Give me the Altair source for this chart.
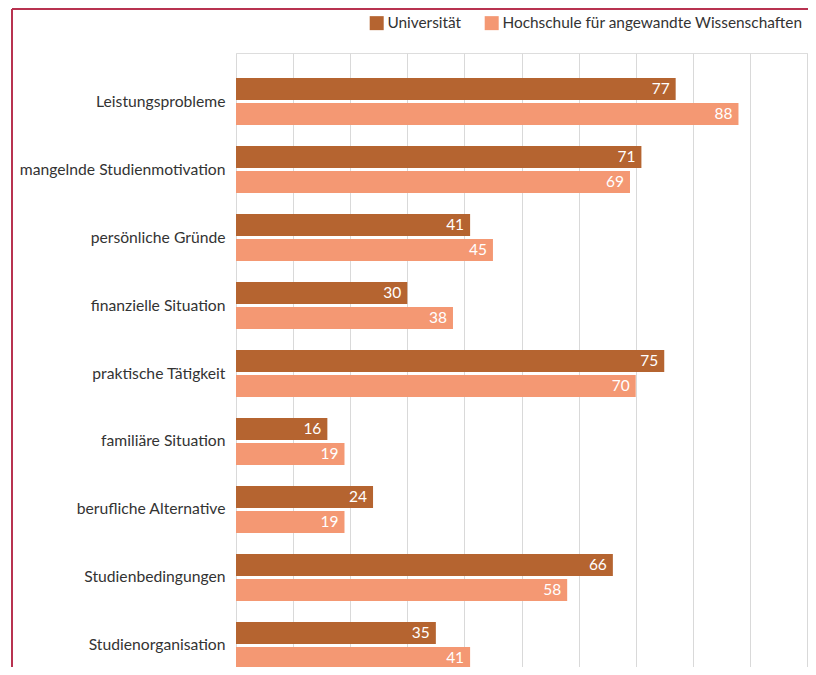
import altair as alt
import pandas as pd

categories = ["Leistungsprobleme", "mangelnde Studienmotivation", "persönliche Gründe",
              "finanzielle Situation", "praktische Tätigkeit", "familiäre Situation",
              "berufliche Alternative", "Studienbedingungen", "Studienorganisation"]
series = ["Universität", "Hochschule für angewandte Wissenschaften"]
uni = [77, 71, 41, 30, 75, 16, 24, 66, 35]
haw = [88, 69, 45, 38, 70, 19, 19, 58, 41]
colors = ["#B56430", "#F49873"]

rows = []
for c, u, h in zip(categories, uni, haw):
    rows.append({"cat": c, "series": series[0], "value": u})
    rows.append({"cat": c, "series": series[1], "value": h})
df = pd.DataFrame(rows)

W = 571
H = 641
FONT = "Lato"

y_enc = alt.Y("cat:N", sort=categories,
              scale=alt.Scale(paddingInner=0.309, paddingOuter=0.368),
              axis=alt.Axis(title=None, ticks=False, domain=False, labelPadding=11,
                            labelFontSize=15.7, labelColor="#333333", labelFont=FONT,
                            labelLimit=400))
yoff = alt.YOffset("series:N", sort=series, scale=alt.Scale(paddingInner=0.12, paddingOuter=0))
x_enc = alt.X("value:Q", scale=alt.Scale(domain=[0, 100]),
              axis=alt.Axis(title=None, labels=False, ticks=False, domain=False, grid=True,
                            values=list(range(0, 101, 10)), gridColor="#d9d9d9", gridWidth=1))

bars = alt.Chart(df).mark_bar().encode(
    x=x_enc, y=y_enc, yOffset=yoff,
    color=alt.Color("series:N", sort=series,
                    scale=alt.Scale(domain=series, range=colors),
                    legend=alt.Legend(title=None, orient="none", legendX=133, legendY=-38,
                                      direction="horizontal", symbolType="square",
                                      symbolSize=196, symbolStrokeWidth=0, labelFontSize=15.4,
                                      labelColor="#333333", labelFont=FONT, columnPadding=22,
                                      labelOffset=3, labelLimit=500)),
)

labels = alt.Chart(df).mark_text(align="right", baseline="middle", dx=-6, fontSize=15.5,
                                 color="white", font=FONT).encode(
    x="value:Q", y=alt.Y("cat:N", sort=categories), yOffset=alt.YOffset("series:N", sort=series),
    text="value:Q")

one = pd.DataFrame({"a": [0]})
left_border = alt.Chart(one).mark_rule(color="#B83250", strokeWidth=2).encode(
    x=alt.value(-224), y=alt.value(-44), y2=alt.value(H + 60))
top_border = alt.Chart(one).mark_rule(color="#B83250", strokeWidth=2).encode(
    x=alt.value(-224), x2=alt.value(W + 40), y=alt.value(-44))

chart = alt.layer(bars, labels, left_border, top_border).properties(
    width=W, height=H,
    autosize=alt.AutoSizeParams(type="none"),
    padding={"left": 228, "top": 45, "right": 1, "bottom": -27},
).configure_view(stroke=None).configure(font=FONT)

chart.save("out.html", embed_options={"renderer": "svg", "actions": False})
